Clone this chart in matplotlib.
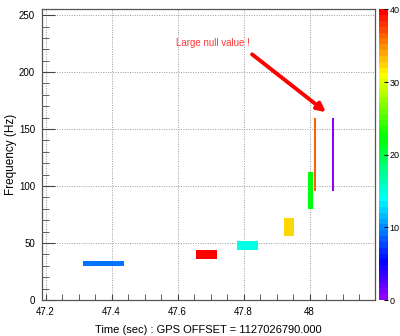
import colorsys
import numpy as np
import matplotlib
matplotlib.use('Agg')
import matplotlib.pyplot as plt
from matplotlib.colors import ListedColormap, Normalize
from matplotlib.ticker import MultipleLocator

plt.rcParams['font.family'] = ['Liberation Sans', 'DejaVu Sans']

# tiles: start time, duration, frequency band, tile value
t_start = [47.3125, 47.65625, 47.78125, 47.921875, 47.9960, 48.0117, 48.0664]
t_dur = [0.125, 0.0625, 0.0625, 0.03125, 0.015625, 0.0078, 0.0078]
f_low = [30, 36, 44, 56, 80, 96, 96]
f_high = [34, 44, 52, 72, 112, 160, 160]
z_val = [9, 40, 15, 32, 22, 36, 0.5]

# ROOT-like "pretty" palette: violet -> red, 50 steps
n_col = 50
hues = [280 - (i + 1) * 280.0 / n_col for i in range(n_col)]
pal = ListedColormap([colorsys.hls_to_rgb(h / 360.0, 0.5, 1.0) for h in hues])
norm = Normalize(0, 40)

fig = plt.figure(figsize=(4.0, 3.36), dpi=100)
ax = fig.add_axes([0.105, 0.107, 0.8325, 0.865])
cax = fig.add_axes([0.948, 0.107, 0.023, 0.865])

heights = np.array(f_high) - np.array(f_low)
ax.bar(t_start, heights, width=t_dur, bottom=f_low, align='edge',
       color=pal(norm(np.array(z_val))), linewidth=0, zorder=3)

ax.set_xlim(47.189, 48.198)
ax.set_ylim(0, 255)
ax.xaxis.set_major_locator(MultipleLocator(0.2))
ax.xaxis.set_minor_locator(MultipleLocator(0.05))
ax.yaxis.set_major_locator(MultipleLocator(50))
ax.yaxis.set_minor_locator(MultipleLocator(10))
ax.set_xticks([47.2, 47.4, 47.6, 47.8, 48.0])
ax.set_xticklabels(['47.2', '47.4', '47.6', '47.8', '48'])
ax.grid(True, which='major', color='#999999', linestyle=(0, (1, 1.5)), linewidth=0.7, zorder=1)
ax.tick_params(axis='both', which='both', direction='in', labelsize=7, colors='#444444',
               labelcolor='black', top=False, right=False)
ax.tick_params(axis='y', which='major', length=9, pad=5)
ax.tick_params(axis='y', which='minor', length=5)
ax.tick_params(axis='x', which='both', length=4, pad=5)
for s in ax.spines.values():
    s.set_color('#555555')
    s.set_linewidth(0.9)

ax.set_xlabel('Time (sec) : GPS OFFSET = 1127026790.000', fontsize=8)
ax.xaxis.set_label_coords(0.5, -0.085)
ax.set_ylabel('Frequency (Hz)', fontsize=8.5)
ax.yaxis.set_label_coords(-0.075, 0.5)

ax.text(47.594, 225.6, 'Large null value !', color='#ff3838', fontsize=7,
        va='center', ha='left')
ax.annotate('', xy=(48.056, 163.3), xytext=(47.819, 217.1),
            arrowprops=dict(arrowstyle='-|>,head_length=0.5,head_width=0.25',
                            color='red', lw=2.8))

# colour scale
levels = np.linspace(0, 40, n_col + 1)
cax.pcolormesh([0, 1], levels, ((levels[:-1] + levels[1:]) / 2)[:, None],
               cmap=pal, norm=norm)
cax.set_xlim(0, 1)
cax.set_ylim(0, 40)
cax.set_xticks([])
cax.yaxis.tick_right()
cax.set_yticks([0, 10, 20, 30, 40])
cax.tick_params(axis='y', direction='in', length=3, pad=1, labelsize=6.5)
for s in cax.spines.values():
    s.set_visible(False)

fig.savefig('out.png', dpi=100)
